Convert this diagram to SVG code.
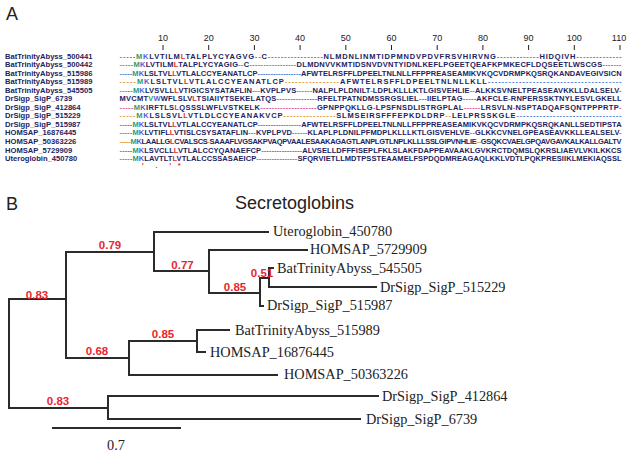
<svg xmlns="http://www.w3.org/2000/svg" width="629" height="455" viewBox="0 0 629 455">
<style>
text{font-family:"Liberation Sans",Arial,sans-serif}
.panel{font-size:18px;fill:#222}
.nm{font-family:"Liberation Mono",monospace;font-size:7.6px;font-weight:bold;fill:#23235e}
.sq{font-family:"Liberation Mono",monospace;font-size:7.5px;font-weight:bold;fill:#23235e}
.ru{font-family:"Liberation Mono",monospace;font-size:9px;fill:#222;text-anchor:middle}
.g1{fill:#4c7fd6}.g2{fill:#d94f9e}.g3{fill:#e29a3c}
.m{fill:#2e9c6a}.k{fill:#5b5bd6}.r{fill:#e8302e}
.cons{font-family:"Liberation Mono",monospace;font-size:7.5px;font-weight:bold;fill:#e8302e}
.tick{stroke:#222;stroke-width:1}
.br{fill:none;stroke:#2b2b2b;stroke-width:2;stroke-linecap:square}
.lf{font-family:"Liberation Serif","Times New Roman",serif;font-size:14.3px;fill:#222}
.bs{font-size:11.5px;font-weight:bold;fill:#e8262e;text-anchor:middle}
</style>
<text class="panel" x="6" y="20">A</text>
<g id="ruler">
<g class="ru">
<text x="163" y="41">10</text><text x="208.7" y="41">20</text><text x="254.4" y="41">30</text><text x="300.1" y="41">40</text><text x="345.8" y="41">50</text><text x="391.5" y="41">60</text><text x="437.2" y="41">70</text><text x="482.9" y="41">80</text><text x="528.6" y="41">90</text><text x="574.3" y="41">100</text><text x="619" y="41">110</text>
</g>
<path class="tick" d="M163 45V50M208.7 45V50M254.4 45V50M300.1 45V50M345.8 45V50M391.5 45V50M437.2 45V50M482.9 45V50M528.6 45V50M574.3 45V50M620 45V50"/>
</g>
<g id="names" class="nm">
<text x="5" y="58.5">BatTrinityAbyss_500441</text>
<text x="5" y="67.05">BatTrinityAbyss_500442</text>
<text x="5" y="75.6">BatTrinityAbyss_515986</text>
<text x="5" y="84.15">BatTrinityAbyss_515989</text>
<text x="5" y="92.7">BatTrinityAbyss_545505</text>
<text x="5" y="101.25">DrSigp_SigP_6739</text>
<text x="5" y="109.8">DrSigp_SigP_412864</text>
<text x="5" y="118.35">DrSigp_SigP_515229</text>
<text x="5" y="126.9">DrSigp_SigP_515987</text>
<text x="5" y="135.45">HOMSAP_16876445</text>
<text x="5" y="144">HOMSAP_50363226</text>
<text x="5" y="152.55">HOMSAP_5729909</text>
<text x="5" y="161.1">Uteroglobin_450780</text>
</g>
<g id="alignment" class="sq">
<text x="119.6" y="58.5" textLength="502" lengthAdjust="spacing"><tspan class="g1">-----</tspan><tspan class="m">M</tspan><tspan class="k">K</tspan>LVTILM<tspan class="r">L</tspan>TALPLYCYAGVG<tspan class="g1">--</tspan>C<tspan class="g1">-----------------</tspan>NLMDNLINMTIDPMNDVPDVFRSVHIRVNG<tspan class="g1">-------------</tspan>HIDQIVH<tspan class="g1">--------------</tspan></text>
<text x="119.6" y="67.05" textLength="502" lengthAdjust="spacing"><tspan class="g2">-----</tspan><tspan class="m">M</tspan><tspan class="k">K</tspan>LVTILM<tspan class="r">L</tspan>TALPLYCYAGIG<tspan class="g2">--</tspan>C<tspan class="g2">-----------------</tspan>DLMDNVVKMTIDSNVDVNTYIDNLKEFLPGEETQEAFKPMKECFLDQSEETLWSCGS<tspan class="g2">-------</tspan></text>
<text x="119.6" y="75.6" textLength="502" lengthAdjust="spacing"><tspan class="g1">-----</tspan><tspan class="m">M</tspan><tspan class="k">K</tspan>LSLTVL<tspan class="r">L</tspan>VTLALCCYEANATLCP<tspan class="g1">-----------------</tspan>AFWTELRSFFLDPEELTNLNLLFFPPREASEAMIKVKQCVDRMPKQSRQKANDAVEGIVSICN</text>
<text x="119.6" y="84.15" textLength="502" lengthAdjust="spacing"><tspan class="g3">-----</tspan><tspan class="m">M</tspan><tspan class="k">K</tspan>LSLTVL<tspan class="r">L</tspan>VTLALCCYEANATLCP<tspan class="g3">----------------</tspan>AFWTELRSFFLDPEELTNLNLLKLL<tspan class="g1">---------------------------------------</tspan></text>
<text x="119.6" y="92.7" textLength="502" lengthAdjust="spacing"><tspan class="g2">-----</tspan><tspan class="m">M</tspan><tspan class="k">K</tspan>LVSVLL<tspan class="r">L</tspan>VTIGICSYSATAFLIN<tspan class="g2">---</tspan>KVPLPVS<tspan class="g2">------</tspan>NALPLPLDNILT<tspan class="g2">-</tspan>LDPLKLLLKTLGISVEHLIE<tspan class="g2">--</tspan>ALKKSVNELTPEASEAVKKLLDALSELV<tspan class="g2">-</tspan></text>
<text x="119.6" y="101.25" textLength="502" lengthAdjust="spacing">MVCMT<tspan class="m">V</tspan><tspan class="k">W</tspan>WFLSLV<tspan class="r">L</tspan>TSIAIIYTSEKELATQS<tspan class="g1">---------------</tspan>RFELTPATNDMSSRGSLIEL<tspan class="g1">---</tspan>IIELPTAG<tspan class="g1">-----</tspan>AKFCLE<tspan class="g1">-</tspan>RNPERSSKTNYLESVLGKELL</text>
<text x="119.6" y="109.8" textLength="502" lengthAdjust="spacing"><tspan class="g2">-----</tspan><tspan class="m">M</tspan><tspan class="k">K</tspan>IRFTLS<tspan class="r">L</tspan>QSSSLWFLVSTKELK<tspan class="g2">--------------------</tspan>GPNPPQKLLG<tspan class="g2">-</tspan>LPSFNSDLISTRGPLAL<tspan class="g2">------</tspan>LRSVLN<tspan class="g2">-</tspan>NSPTADQAFSQNTPPPRTP<tspan class="g2">-</tspan></text>
<text x="119.6" y="118.35" textLength="502" lengthAdjust="spacing"><tspan class="g3">-----</tspan><tspan class="m">M</tspan><tspan class="k">K</tspan>LSLSVL<tspan class="r">L</tspan>VTLDLCCYEANAKVCP<tspan class="g3">----------------</tspan>SLMSEIRSFFFEPKDLDRP<tspan class="g3">--</tspan>LELPRSSKGLE<tspan class="g1">--------------------------------</tspan></text>
<text x="119.6" y="126.9" textLength="502" lengthAdjust="spacing"><tspan class="g1">-----</tspan><tspan class="m">M</tspan><tspan class="k">K</tspan>LSLTVL<tspan class="r">L</tspan>VTLALCCYEANATLCP<tspan class="g1">-----------------</tspan>AFWTELRSFFLDPEELTNLNLLFFPPREASEAMIKVKQCVDRMPKQSRQKANLLSEDTIPSTA</text>
<text x="119.6" y="135.45" textLength="502" lengthAdjust="spacing"><tspan class="g2">-----</tspan><tspan class="m">M</tspan><tspan class="k">K</tspan>LVTIFL<tspan class="r">L</tspan>VTISLCSYSATAFLIN<tspan class="g2">---</tspan>KVPLPVD<tspan class="g2">------</tspan>KLAPLPLDNILPFMDPLKLLLKTLGISVEHLVE<tspan class="g2">--</tspan>GLKKCVNELGPEASEAVKKLLEALSELV<tspan class="g2">-</tspan></text>
<text x="119.6" y="144" textLength="502" lengthAdjust="spacing"><tspan class="g3">-----</tspan><tspan class="m">M</tspan><tspan class="k">K</tspan>LAALLG<tspan class="r">L</tspan>CVALSCS<tspan class="g3">-</tspan>SAAAFLVGSAKPVAQPVAALESAAKAGAGTLANPLGTLNPLKLLLSSLGIPVNHLIE<tspan class="g3">--</tspan>GSQKCVAELGPQAVGAVKALKALLGALTV</text>
<text x="119.6" y="152.55" textLength="502" lengthAdjust="spacing"><tspan class="g1">-----</tspan><tspan class="m">M</tspan><tspan class="k">K</tspan>LSVCLL<tspan class="r">L</tspan>VTLALCCYQANAEFCP<tspan class="g1">----------------</tspan>ALVSELLDFFFISEPLFKLSLAKFDAPPEAVAAKLGVKRCTDQMSLQKRSLIAEVLVKILKKCS</text>
<text x="119.6" y="161.1" textLength="502" lengthAdjust="spacing"><tspan class="g2">-----</tspan><tspan class="m">M</tspan><tspan class="k">K</tspan>LAVTLT<tspan class="r">L</tspan>VTLALCCSSASAEICP<tspan class="g2">----------------</tspan>SFQRVIETLLMDTPSSTEAAMELFSPDQDMREAGAQLKKLVDTLPQKPRESIIKLMEKIAQSSL</text>
<text class="cons" x="140.5" y="168">'</text>
<text class="cons" x="154.2" y="168">.</text>
<text class="cons" x="167.9" y="168">'</text>
<text class="cons" x="177" y="168">*</text>
</g>
<text class="panel" x="6" y="210">B</text>
<text x="235" y="209" style="font-size:18px;fill:#222">Secretoglobins</text>
<g id="connectors">
<path class="br" d="M9 299V408M9 299H66M66 252V358M66 252H154M154 232V271M154 232H268M154 271H209M209 250V293M209 250H307M209 293H260M260 278V306M260 278H269M269 268V287M269 268H273M269 287H376M260 306H263M66 358H129M129 341V375M129 341H197M197 330V352M197 330H229M197 352H205M129 375H277M9 408H108M108 396V419M108 396H378M108 419H360"/>
</g>
<g id="bootstrap">
<text class="bs" x="37" y="298.5">0.83</text>
<text class="bs" x="110" y="249.3">0.79</text>
<text class="bs" x="182.5" y="269.3">0.77</text>
<text class="bs" x="235" y="291">0.85</text>
<text class="bs" x="262" y="276.5">0.51</text>
<text class="bs" x="97" y="355">0.68</text>
<text class="bs" x="163" y="338">0.85</text>
<text class="bs" x="58" y="405">0.83</text>
</g>
<g id="n-uteroglobin_450780"><text class="lf" x="273" y="235.7">Uteroglobin_450780</text></g>
<g id="n-homsap_5729909"><text class="lf" x="310" y="254">HOMSAP_5729909</text></g>
<g id="n-bat_545505"><text class="lf" x="277" y="272.5">BatTrinityAbyss_545505</text></g>
<g id="n-drsigp_515229"><text class="lf" x="380" y="291.5">DrSigp_SigP_515229</text></g>
<g id="n-drsigp_515987"><text class="lf" x="267" y="310">DrSigp_SigP_515987</text></g>
<g id="n-bat_515989"><text class="lf" x="235" y="334.5">BatTrinityAbyss_515989</text></g>
<g id="n-homsap_16876445"><text class="lf" x="210" y="356.5">HOMSAP_16876445</text></g>
<g id="n-homsap_50363226"><text class="lf" x="284" y="379">HOMSAP_50363226</text></g>
<g id="n-drsigp_412864"><text class="lf" x="382" y="401">DrSigp_SigP_412864</text></g>
<g id="n-drsigp_6739"><text class="lf" x="366" y="423.5">DrSigp_SigP_6739</text></g>
<g id="scalebar">
<path d="M52 428H181" stroke="#2b2b2b" stroke-width="2"/>
<text class="lf" x="116" y="450" text-anchor="middle">0.7</text>
</g>
</svg>
